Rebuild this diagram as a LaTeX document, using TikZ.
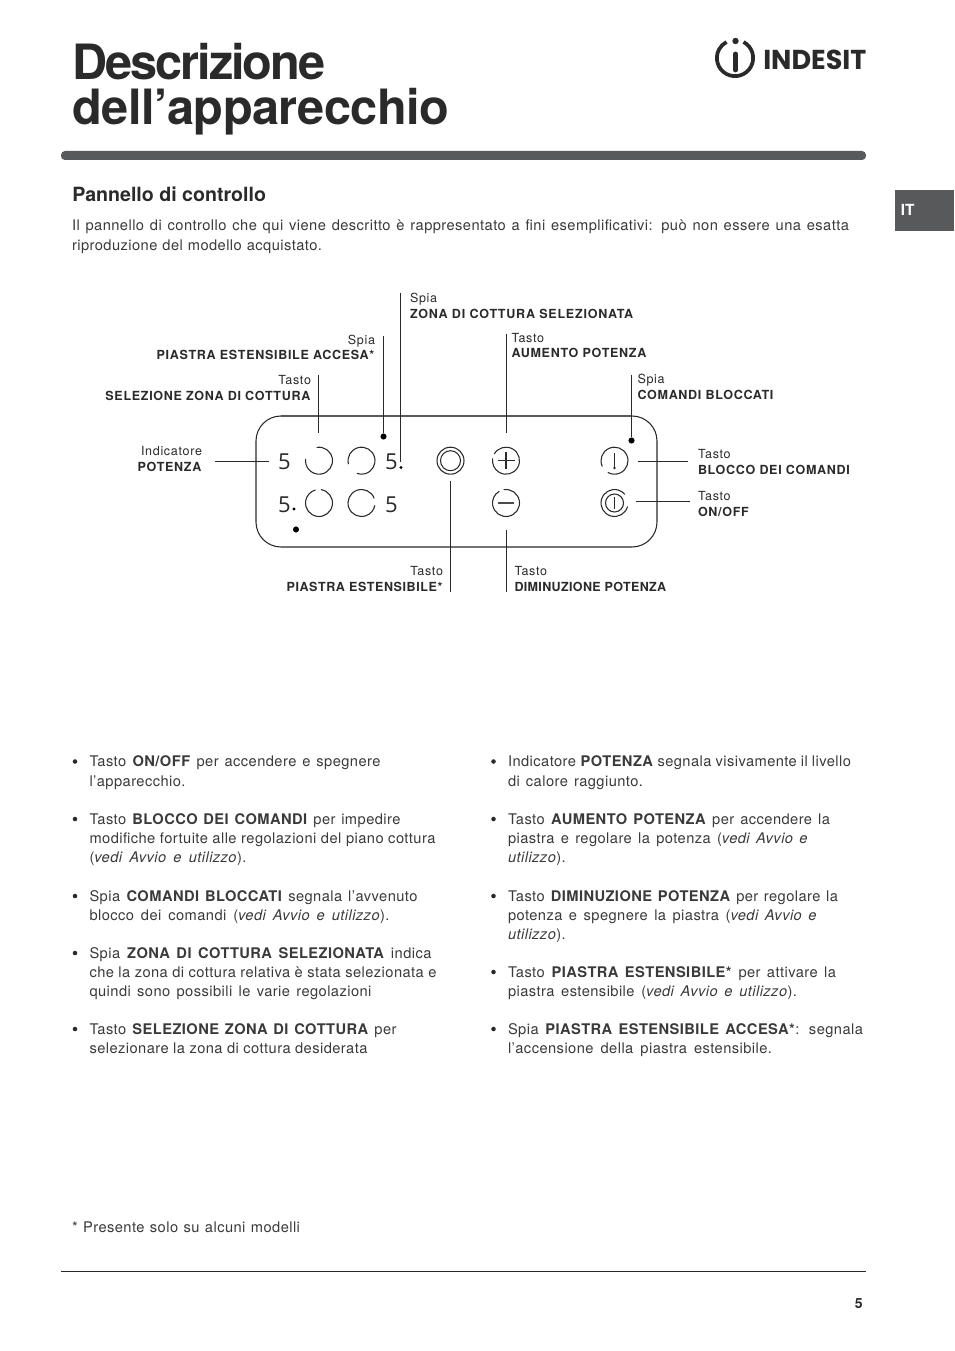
\documentclass[tikz,border=0pt]{standalone}
\usepackage{fontspec}
\setmainfont{TeX Gyre Heros}
\newfontfamily\digitfont{Open Sans}
\newfontfamily\logofont{Poppins}[BoldFont={* Bold}]
\newfontfamily\bodyf{TeX Gyre Heros}[LetterSpace=3]
\newfontfamily\smlf{TeX Gyre Heros}[LetterSpace=5.5]
\newfontfamily\smlZ{TeX Gyre Heros}[LetterSpace=6.1]
\newfontfamily\smlD{TeX Gyre Heros}[LetterSpace=2.7]
\newfontfamily\smlP{TeX Gyre Heros}[LetterSpace=4.6]
\newfontfamily\titleAf{TeX Gyre Heros}[LetterSpace=-4.1]
\newfontfamily\titleBf{TeX Gyre Heros}[LetterSpace=-1.0]
\definecolor{ink}{HTML}{2A2A2A}
\definecolor{band}{HTML}{58595B}
\definecolor{bodyc}{HTML}{3A3A3A}
\newcounter{tn}
\newdimen\pxu \pxu=0.75pt
\newcommand{\tl}[4]{\stepcounter{tn}\node[txt] (t\thetn) at (#1,#2) {\makebox[#3\pxu][s]{#4}};}
\newcommand{\bl}[2]{\stepcounter{tn}\node[bulletdot] (t\thetn) at (#1,#2) {};}
\newcommand{\gc}[4]{\draw[ic] (#1,#2) ++(#3:10.125pt) arc[start angle=#3,end angle=#4,radius=10.125pt];}
\newcommand{\B}[1]{\textbf{#1}}
\newcommand{\I}[1]{\textit{#1}}
\begin{document}
\begin{tikzpicture}[x=0.75pt,y=-0.75pt,
 txt/.style={anchor=base west,inner sep=0pt,outer sep=0pt,font=\bodyf\fontsize{11}{13}\selectfont,text=bodyc},
 bulletdot/.style={circle,fill=ink,inner sep=0pt,minimum size=3.4pt},
 sml/.style={inner sep=0pt,outer sep=0pt,font=\smlf\fontsize{9.4}{11.5}\selectfont,text=ink,align=left},
 smlr/.style={sml,align=right},
 conn/.style={draw=ink,line width=0.75pt},
 ic/.style={draw=ink,line width=0.8pt},
 dig/.style={inner sep=0pt,outer sep=0pt,anchor=base west,font=\digitfont\fontsize{16.5}{18}\selectfont,text=ink},
 bigdot/.style={circle,fill=black,inner sep=0pt,minimum size=4.6pt},
 smalldot/.style={circle,fill=black,inner sep=0pt,minimum size=2.4pt},
]
\useasboundingbox (0,0) rectangle (954,1351);
\fill[white] (0,0) rectangle (954,1351);
% title
\node[anchor=base west,inner sep=0pt,text=ink,font=\titleAf\fontsize{36.5}{40}\selectfont\bfseries] (title1) at (72,80) {Descrizione};
\node[anchor=base west,inner sep=0pt,text=ink,font=\titleBf\fontsize{36.5}{40}\selectfont\bfseries] (title2) at (72,125) {dell’apparecchio};
% logo
\draw[ink,line width=2.8pt] (735,58) ++(62:13.6pt) arc[start angle=62,end angle=-242,radius=13.6pt];
\draw[ink,line width=3.6pt,line cap=round] (735.5,54) -- (735.5,70);
\fill[ink] (735.5,41) circle[radius=2.4pt];
\node[anchor=base west,inner sep=0pt,text=ink,font=\logofont\bfseries\fontsize{21}{22}\selectfont] (logo) at (763,70) {\resizebox{77.3pt}{14.6pt}{INDESIT}};
% band
\fill[band,rounded corners=3pt] (61,151) rectangle (866,160);
\fill[band] (895,190) rectangle (954,231);
\node[anchor=base west,inner sep=0pt,text=white,font=\fontsize{11.5}{13}\selectfont\bfseries] (tab) at (900.5,216) {IT};
% heading
\node[anchor=base west,inner sep=0pt,text=ink,font=\fontsize{14.7}{16}\selectfont\bfseries] (head) at (72,201.5) {Pannello di controllo};
\tl{72}{231}{777}{Il pannello di controllo che qui viene descritto è rappresentato a fini esemplificativi: può non essere una esatta}
\tl{72}{251}{250}{riproduzione del modello acquistato.}
% panel
\draw[ink,line width=0.8pt] (281,416) arc[start angle=90,end angle=180,radius=18.75pt] -- (256,522) arc[start angle=180,end angle=270,radius=18.75pt] -- (632,547) arc[start angle=270,end angle=360,radius=18.75pt] -- (657,441) arc[start angle=0,end angle=90,radius=18.75pt];
\draw[draw=black!65,line width=1.5pt] (281,416) -- (632,416);
% digits
\node[dig] (d1) at (278,469) {5};
\node[dig] (d2) at (385,469) {5};
\node[dig] (d3) at (278,512) {5};
\node[dig] (d4) at (385,512) {5};
\node[smalldot] (sd1) at (401,467.5) {};
\node[smalldot] (sd2) at (294,509) {};
\node[bigdot] (bd1) at (383.5,436.5) {};
\node[bigdot] (bd2) at (296,529.5) {};
\node[bigdot] (bd3) at (631.5,440.5) {};
% key circles
\gc{319}{460.7}{100}{-188}
\gc{361.5}{460.7}{195}{-110}
\gc{319}{503}{82}{-255}
\gc{361.5}{503}{20}{350}
\draw[ic] (450.5,460.7) circle[radius=10.125pt];
\draw[ic] (450.5,460.7) circle[radius=7.5pt];
\gc{506}{460.7}{150}{-190}
\draw[ic] (497.5,460.7) -- (514.5,460.7);
\draw[ic] (506,452.2) -- (506,469.2);
\gc{506}{503}{100}{-240}
\draw[draw=black!70,line width=1.2pt] (498,503) -- (514,503);
\gc{614.5}{460.7}{205}{-120}
\draw[ic] (614.5,453) -- (614.5,468);
\fill[ink] (614.5,468) circle[radius=1.1pt];
\gc{614.5}{503}{-15}{-320}
\draw[ic] (614.5,503) circle[radius=6.75pt];
\draw[ic] (614.5,497) -- (614.5,509);
% labels
\node[sml,anchor=base west] (lZona) at (410,319) {Spia\\[1.2pt]{\smlZ\textbf{ZONA DI COTTURA SELEZIONATA}}};
\node[smlr,anchor=base east] (lAcc) at (375,359.5) {Spia\\[0pt]\textbf{PIASTRA ESTENSIBILE ACCESA*}};
\node[sml,anchor=base west] (lAum) at (511.5,358) {Tasto\\[0pt]\textbf{AUMENTO POTENZA}};
\node[sml,anchor=base west] (lCom) at (637.5,399) {Spia\\[0pt]\textbf{COMANDI BLOCCATI}};
\node[smlr,anchor=base east] (lSel) at (311,400) {Tasto\\[0pt]\textbf{SELEZIONE ZONA DI COTTURA}};
\node[smlr,anchor=base east] (lPot) at (202,471) {Indicatore\\[0pt]\textbf{POTENZA}};
\node[sml,anchor=base west] (lBlo) at (698,474) {Tasto\\[0pt]\textbf{BLOCCO DEI COMANDI}};
\node[sml,anchor=base west] (lOn) at (698,516) {Tasto\\[0pt]\textbf{ON/OFF}};
\node[smlr,anchor=base east] (lPia) at (443,591) {Tasto\\[0pt]{\smlP\textbf{PIASTRA ESTENSIBILE*}}};
\node[sml,anchor=base west] (lDim) at (514.5,591) {Tasto\\[0pt]{\smlD\textbf{DIMINUZIONE POTENZA}}};
% connectors
\coordinate (c1a) at (318,375); \coordinate (c1b) at (318,433);
\coordinate (c2a) at (383.5,336); \coordinate (c3a) at (400.5,293); \coordinate (c3b) at (400.5,462);
\coordinate (c4a) at (506,334); \coordinate (c4b) at (506,433);
\coordinate (c5a) at (631.5,375);
\coordinate (c6a) at (215,461); \coordinate (c6b) at (269,461);
\coordinate (c7a) at (638,461); \coordinate (c7b) at (688,461);
\coordinate (c8a) at (636,501); \coordinate (c8b) at (690,501);
\coordinate (c9a) at (450.5,481); \coordinate (c9b) at (450.5,592);
\coordinate (c10a) at (506,530); \coordinate (c10b) at (506,592);
\draw[conn] (c1a) -- (c1b);
\draw[conn] (c2a) -- (bd1);
\draw[conn] (c3a) -- (c3b);
\draw[conn] (c4a) -- (c4b);
\draw[conn] (c5a) -- (bd3);
\draw[conn] (c6a) -- (c6b);
\draw[conn] (c7a) -- (c7b);
\draw[conn] (c8a) -- (c8b);
\draw[conn] (c9a) -- (c9b);
\draw[conn] (c10a) -- (c10b);
% left column
\bl{75}{761.5}
\tl{89.5}{766.5}{291}{Tasto \B{ON/OFF} per accendere e spegnere}
\tl{89.5}{786}{98}{l’apparecchio.}
\bl{75}{819}
\tl{89.5}{824.5}{311}{Tasto \B{BLOCCO DEI COMANDI} per impedire}
\tl{89.5}{843.5}{346}{modifiche fortuite alle regolazioni del piano cottura}
\tl{89.5}{862.5}{157}{(\I{vedi Avvio e utilizzo}).}
\bl{75}{896}
\tl{89.5}{901.5}{328}{Spia \B{COMANDI BLOCCATI} segnala l’avvenuto}
\tl{89.5}{920.5}{300}{blocco dei comandi (\I{vedi Avvio e utilizzo}).}
\bl{75}{953}
\tl{89.5}{958.5}{342}{Spia \B{ZONA DI COTTURA SELEZIONATA} indica}
\tl{89.5}{977.5}{347}{che la zona di cottura relativa è stata selezionata e}
\tl{89.5}{996.5}{282}{quindi sono possibili le varie regolazioni}
\bl{75}{1029}
\tl{89.5}{1034.5}{307}{Tasto \B{SELEZIONE ZONA DI COTTURA} per}
\tl{89.5}{1053.5}{278}{selezionare la zona di cottura desiderata}
% right column
\bl{493.5}{761.5}
\tl{508}{766.5}{343}{Indicatore \B{POTENZA} segnala visivamente il livello}
\tl{508}{786}{135}{di calore raggiunto.}
\bl{493.5}{819}
\tl{508}{824.5}{322}{Tasto \B{AUMENTO POTENZA} per accendere la}
\tl{508}{843.5}{300}{piastra e regolare la potenza (\I{vedi Avvio e}}
\tl{508}{862.5}{58}{\I{utilizzo}).}
\bl{493.5}{896}
\tl{508}{901.5}{330}{Tasto \B{DIMINUZIONE POTENZA} per regolare la}
\tl{508}{920.5}{309}{potenza e spegnere la piastra (\I{vedi Avvio e}}
\tl{508}{939.5}{58}{\I{utilizzo}).}
\bl{493.5}{972}
\tl{508}{977.5}{328}{Tasto \B{PIASTRA ESTENSIBILE*} per attivare la}
\tl{508}{996.5}{289}{piastra estensibile (\I{vedi Avvio e utilizzo}).}
\bl{493.5}{1029}
\tl{508}{1034.5}{355}{Spia \B{PIASTRA ESTENSIBILE ACCESA*}: segnala}
\tl{508}{1053.5}{264}{l’accensione della piastra estensibile.}
% footer
\tl{72}{1232}{228}{* Presente solo su alcuni modelli}
\draw[ink,line width=0.7pt] (61,1271) -- (866,1271);
\node[anchor=base east,inner sep=0pt,text=ink,font=\fontsize{10.5}{12}\selectfont\bfseries] (pg) at (863,1308) {5};
\end{tikzpicture}
\end{document}
